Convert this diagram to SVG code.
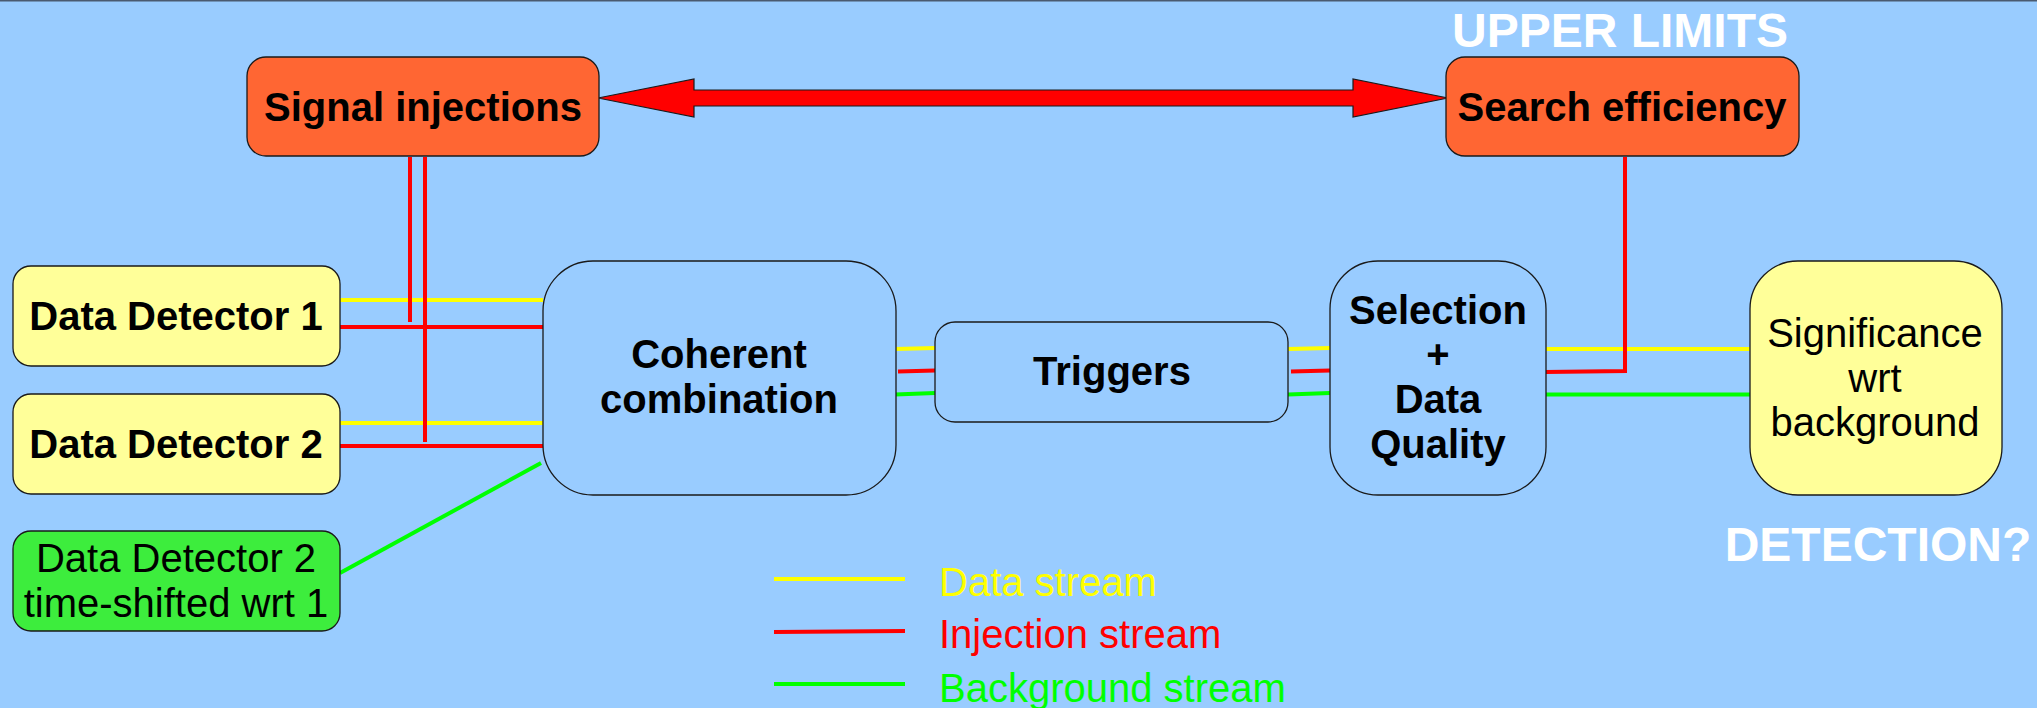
<svg xmlns="http://www.w3.org/2000/svg" width="2037" height="708" viewBox="0 0 2037 708">
<style>
.node{stroke:#1a1a1a;stroke-width:1.3}
.orange{fill:#ff6633}
.yel{fill:#ffff99}
.grn{fill:#3ded3d}
.blue{fill:#99ccff}
.b{font-family:"Liberation Sans",Arial,sans-serif;font-weight:bold;font-size:40px;fill:#000;text-anchor:middle}
.n{font-family:"Liberation Sans",Arial,sans-serif;font-size:40px;fill:#000;text-anchor:middle}
.w{font-family:"Liberation Sans",Arial,sans-serif;font-weight:bold;font-size:48px;fill:#ffffff;text-anchor:middle}
.leg{font-family:"Liberation Sans",Arial,sans-serif;font-size:40px}
.ly{stroke:#ffff00;stroke-width:4;fill:none}
.lr{stroke:#ff0000;stroke-width:4;fill:none}
.lg{stroke:#00ff00;stroke-width:4;fill:none}
</style>
<rect x="0" y="0" width="2037" height="708" fill="#99ccff"/>
<rect x="0" y="0" width="2037" height="1.5" fill="#4a5a70"/>

<g id="connectors">
  <!-- double arrow -->
  <polygon points="598,98 694,79 694,90 1353,90 1353,79 1448,98 1353,117 1353,106 694,106 694,117" fill="#ff0000" stroke="#1a1a1a" stroke-width="1.2" stroke-linejoin="miter"/>
  <!-- detector lines -->
  <line class="ly" x1="340" y1="300" x2="543" y2="300"/>
  <line class="lr" x1="340" y1="327" x2="543" y2="327"/>
  <line class="ly" x1="340" y1="423" x2="543" y2="423"/>
  <line class="lr" x1="340" y1="446" x2="543" y2="446"/>
  <line class="lr" x1="410" y1="157" x2="410" y2="322"/>
  <line class="lr" x1="425" y1="157" x2="425" y2="442"/>
  <line class="lg" x1="340" y1="573" x2="541" y2="463"/>
  <!-- coherent to triggers -->
  <line class="ly" x1="895" y1="349" x2="935" y2="348"/>
  <line class="lr" x1="898" y1="371.5" x2="935" y2="370.5"/>
  <line class="lg" x1="895" y1="394.5" x2="935" y2="393"/>
  <!-- triggers to selection -->
  <line class="ly" x1="1288" y1="349" x2="1330" y2="348"/>
  <line class="lr" x1="1291" y1="371.5" x2="1330" y2="370.5"/>
  <line class="lg" x1="1288" y1="394.5" x2="1330" y2="393"/>
  <!-- selection to significance -->
  <line class="ly" x1="1545" y1="349" x2="1750" y2="349"/>
  <polyline class="lr" points="1545,372 1625,371 1625,157"/>
  <line class="lg" x1="1545" y1="394.5" x2="1750" y2="394.5"/>
</g>

<g id="signal-injections">
  <rect class="node orange" x="247" y="57" width="352" height="99" rx="19"/>
  <text class="b" x="423" y="121">Signal injections</text>
</g>
<g id="search-efficiency">
  <rect class="node orange" x="1446" y="57" width="353" height="99" rx="19"/>
  <text class="b" x="1622" y="121">Search efficiency</text>
</g>
<g id="upper-limits">
  <text class="w" x="1620" y="47">UPPER LIMITS</text>
</g>
<g id="data-detector-1">
  <rect class="node yel" x="13" y="266" width="327" height="100" rx="18"/>
  <text class="b" x="176" y="330">Data Detector 1</text>
</g>
<g id="data-detector-2">
  <rect class="node yel" x="13" y="394" width="327" height="100" rx="18"/>
  <text class="b" x="176" y="458">Data Detector 2</text>
</g>
<g id="data-detector-2-shifted">
  <rect class="node grn" x="13" y="531" width="327" height="100" rx="18"/>
  <text class="n" x="176" y="572">Data Detector 2</text>
  <text class="n" x="176" y="617">time-shifted wrt 1</text>
</g>
<g id="coherent-combination">
  <rect class="node blue" x="543" y="261" width="353" height="234" rx="50"/>
  <text class="b" x="719" y="368">Coherent</text>
  <text class="b" x="719" y="413">combination</text>
</g>
<g id="triggers">
  <rect class="node blue" x="935" y="322" width="353" height="100" rx="20"/>
  <text class="b" x="1112" y="385">Triggers</text>
</g>
<g id="selection-data-quality">
  <rect class="node blue" x="1330" y="261" width="216" height="234" rx="48"/>
  <text class="b" x="1438" y="324">Selection</text>
  <text class="b" x="1438" y="368">+</text>
  <text class="b" x="1438" y="413">Data</text>
  <text class="b" x="1438" y="458">Quality</text>
</g>
<g id="significance">
  <rect class="node yel" x="1750" y="261" width="252" height="234" rx="48"/>
  <text class="n" x="1875" y="347">Significance</text>
  <text class="n" x="1875" y="392">wrt</text>
  <text class="n" x="1875" y="436">background</text>
</g>
<g id="detection">
  <text class="w" x="1878" y="561">DETECTION?</text>
</g>
<g id="legend">
  <line class="ly" x1="774" y1="579" x2="905" y2="579"/>
  <line class="lr" x1="774" y1="632" x2="905" y2="631"/>
  <line class="lg" x1="774" y1="684" x2="905" y2="684"/>
  <text class="leg" x="939" y="596" fill="#ffff00">Data stream</text>
  <text class="leg" x="939" y="648" fill="#ff0000">Injection stream</text>
  <text class="leg" x="939" y="702" fill="#00ff00">Background stream</text>
</g>
</svg>
